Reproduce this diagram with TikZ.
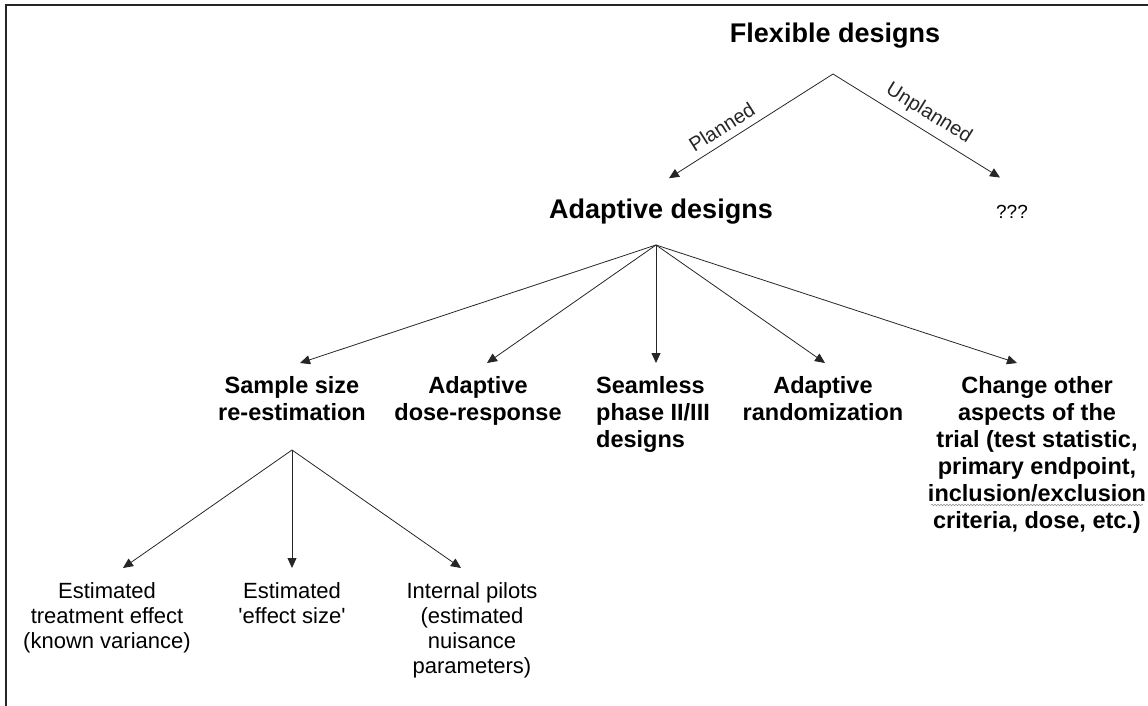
\documentclass[tikz,border=0pt]{standalone}
\usepackage{fontspec}
\setmainfont{Liberation Sans}
\usetikzlibrary{arrows.meta,calc,decorations.pathmorphing}
\tikzset{
  arr/.style={-{Triangle[length=10pt,width=9pt]}, line width=0.8pt, black!85},
  title/.style={font=\bfseries\fontsize{27}{32}\selectfont, inner sep=0pt, anchor=base},
  mid/.style={font=\bfseries\fontsize{23.5}{27}\selectfont, inner sep=0pt, anchor=north, align=center},
  leaf/.style={font=\fontsize{22}{25}\selectfont, inner sep=0pt, anchor=north, align=center},
  lab/.style={font=\fontsize{20}{24}\selectfont, inner sep=0pt, sloped, above=7pt},
  frame/.style={line width=2pt, black!85}
}
\begin{document}
\begin{tikzpicture}[x=1pt,y=-1pt]
\useasboundingbox (0,0) rectangle (1148,706);
\draw[frame] (6,706) -- (6,5) -- (1148,5);
% nodes
\node[title] (flex) at (835,43) {Flexible designs};
\node[title] (adapt) at (661,218) {Adaptive designs};
\node[font=\fontsize{19}{22}\selectfont, inner sep=0pt, anchor=base] (qqq) at (1012,218) {???};
\node[mid] (ss) at (292,376) {Sample size\\re-estimation};
\node[mid] (dr) at (478,376) {Adaptive\\dose-response};
\node[mid, align=left, anchor=north west] (seam) at (596,376) {Seamless\\phase II/III\\designs};
\node[mid] (rand) at (823,376) {Adaptive\\randomization};
\node[mid] (other) at (1037,376) {Change other\\aspects of the\\trial (test statistic,\\primary endpoint,\\inclusion/exclusion\\criteria, dose, etc.)};
\node[leaf] (ete) at (107,582) {Estimated\\treatment effect\\(known variance)};
\node[leaf] (efs) at (292,582) {Estimated\\\textquotesingle effect size\textquotesingle};
\node[leaf] (pil) at (472,582) {Internal pilots\\(estimated\\nuisance\\parameters)};
% split points
\coordinate (F) at (833,74);
\coordinate (A) at (656,245);
\coordinate (S) at (292,450);
% connectors
\draw[arr] (F) -- node[lab, pos=0.63] {Planned} ($(adapt.north)+(8,-20)$);
\draw[arr] (F) -- node[lab, pos=0.52] {Unplanned} ($(qqq.north)+(-12,-27)$);
\draw[arr] (A) -- ($(ss.north)+(8,-13)$);
\draw[arr] (A) -- ($(dr.north)+(9,-13)$);
\draw[arr] (A) -- ($(A |- seam.north)+(0,-13)$);
\draw[arr] (A) -- ($(rand.north)+(2,-13)$);
\draw[arr] (A) -- ($(other.north)+(-20,-13)$);
\draw[arr] (S) -- ($(ete.north)+(16,-14)$);
\draw[arr] (S) -- ($(S |- efs.north)+(0,-14)$);
\draw[arr] (S) -- ($(pil.north)+(-11,-14)$);
% squiggle under inclusion/exclusion
\draw[black!45, line width=0.6pt, decorate, decoration={snake, amplitude=0.7pt, segment length=3pt}]
  ($(other.north)+(-106,129)$) -- ($(other.north)+(106,129)$);
\end{tikzpicture}
\end{document}
